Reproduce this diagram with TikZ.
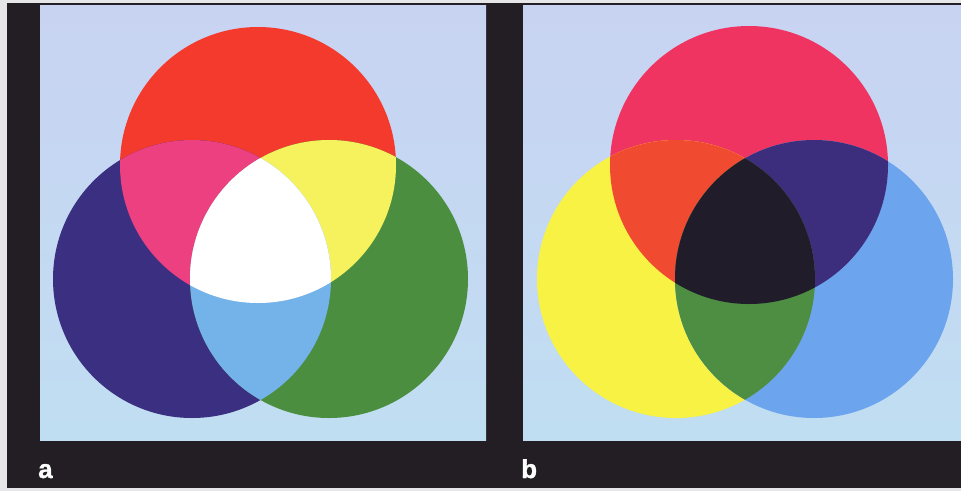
\documentclass[tikz,border=0pt]{standalone}
\usepackage{fontspec}
\setmainfont{Liberation Sans}
\newfontfamily\heavyfont[FakeBold=1.2]{Liberation Sans Bold}
\definecolor{edgegray}{HTML}{E6E6E8}
\definecolor{framedark}{HTML}{231E24}
\definecolor{bgtop}{HTML}{C8D3F2}
\definecolor{bgbot}{HTML}{C0DEF2}
% additive (a)
\definecolor{aRed}{HTML}{F43A2C}
\definecolor{aMag}{HTML}{EC4080}
\definecolor{aYel}{HTML}{F6F25E}
\definecolor{aBlue}{HTML}{3B2F82}
\definecolor{aGreen}{HTML}{4C8E40}
\definecolor{aCyan}{HTML}{74B2EA}
% subtractive (b)
\definecolor{bMag}{HTML}{F03462}
\definecolor{bYel}{HTML}{F8F244}
\definecolor{bCyan}{HTML}{6CA4EE}
\definecolor{bRed}{HTML}{F04A30}
\definecolor{bIndigo}{HTML}{3C2E7C}
\definecolor{bGreen}{HTML}{4E8E42}
\definecolor{bBlack}{HTML}{201C2A}
\tikzset{
  panel/.style={top color=bgtop, bottom color=bgbot},
  lbl/.style={anchor=base west, inner sep=0pt, text=white,
    font=\heavyfont\fontsize{26}{26}\selectfont}
}
\begin{document}
\begin{tikzpicture}[x=1pt,y=-1pt]
\useasboundingbox (0,0) rectangle (961,491);
\fill[edgegray] (0,0) rectangle (961,491);
\fill[framedark] (7,3) rectangle (961,488);
\shade[panel] (40,5) rectangle (486,440);
\shade[panel] (523,5) rectangle (961,440);

% ---- panel a : additive ----
\coordinate (aR) at (258,165);
\coordinate (aB) at (192,279);
\coordinate (aG) at (329,279);
\fill[aRed] (aR) circle (138);
\fill[aBlue] (aB) circle (139);
\fill[aGreen] (aG) circle (139);
\begin{scope}\clip (aR) circle (138); \fill[aMag] (aB) circle (139); \end{scope}
\begin{scope}\clip (aR) circle (138); \fill[aYel] (aG) circle (139); \end{scope}
\begin{scope}\clip (aB) circle (139); \fill[aCyan] (aG) circle (139); \end{scope}
\begin{scope}\clip (aR) circle (138); \clip (aB) circle (139); \fill[white] (aG) circle (139); \end{scope}

% ---- panel b : subtractive ----
\coordinate (bM) at (749,165);
\coordinate (bY) at (676,279);
\coordinate (bC) at (814,279);
\fill[bMag] (bM) circle (139);
\fill[bYel] (bY) circle (139);
\fill[bCyan] (bC) circle (139);
\begin{scope}\clip (bM) circle (139); \fill[bRed] (bY) circle (139); \end{scope}
\begin{scope}\clip (bM) circle (139); \fill[bIndigo] (bC) circle (139); \end{scope}
\begin{scope}\clip (bY) circle (139); \fill[bGreen] (bC) circle (139); \end{scope}
\begin{scope}\clip (bM) circle (139); \clip (bY) circle (139); \fill[bBlack] (bC) circle (139); \end{scope}

\node[lbl] (la) at (38,478) {a};
\node[lbl] (lb) at (521,478) {b};
\end{tikzpicture}
\end{document}
